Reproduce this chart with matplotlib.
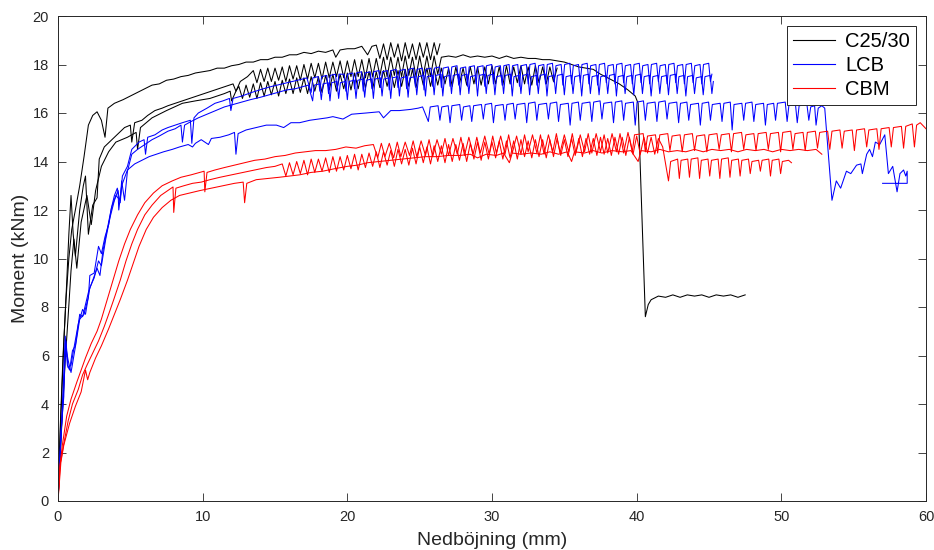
import matplotlib
matplotlib.use("Agg")
import matplotlib.pyplot as plt
from matplotlib.lines import Line2D

# ---------------- data (deflection mm, moment kNm) ----------------
c25_a = [(0,0),(0.15,3.0),(0.35,6.0),(0.55,8.3),(0.75,10.0),(0.95,11.2),(1.2,12.0),(1.5,13.0),(1.8,14.2),(2.1,15.5),
         (2.4,15.9),(2.7,16.05),(3.0,15.7),(3.25,15.0),(3.45,16.2),(3.9,16.4),(4.5,16.55),(5.0,16.7),(5.5,16.85),(6.0,17.0),
         (6.5,17.15),(7.0,17.2),(7.5,17.35),(8.0,17.4),(8.5,17.5),(9.0,17.55),(9.5,17.65),(10.0,17.7),(10.5,17.75),(11.0,17.85),
         (11.5,17.85),(12.0,17.95),(12.5,18.0),(13.0,18.1),(13.5,18.1),(14.0,18.2),(14.5,18.2),(15.0,18.3),(15.5,18.3),(16.0,18.4),
         (16.5,18.4),(17.0,18.5),(17.5,18.45),(18.0,18.55),(18.5,18.5),(19.0,18.6),(19.2,18.3),(19.5,18.6),(20.0,18.65),(20.5,18.65),
         (21.0,18.75),(21.4,18.4),(21.7,18.75),(22.0,18.8),(22.25,18.25),(22.5,18.85),(22.75,18.2),(23.0,18.9),(23.25,18.3),(23.5,18.85),
         (23.75,18.15),(24.0,18.9),(24.25,18.25),(24.5,18.85),(24.75,18.2),(25.0,18.9),(25.25,18.3),(25.5,18.9),(25.75,18.2),(26.0,18.9),
         (26.2,18.4),(26.4,18.85)]

c25_b = [(0,0),(0.2,3.5),(0.4,6.5),(0.6,9.0),(0.75,11.0),(0.9,12.6),(1.05,11.0),(1.2,10.1),(1.5,12.0),(1.75,13.0),(1.9,13.4),
         (2.1,11.0),(2.4,12.2),(2.7,12.5),(2.85,14.1),(3.2,14.6),(3.9,15.0),(4.6,15.4),(5.0,15.5),(5.1,14.8),(5.3,15.6),(5.8,15.7),
         (6.2,15.9),(6.7,16.1),(7.2,16.2),(7.6,16.3),(8.1,16.4),(8.6,16.5),(9.1,16.6),(9.6,16.7),(10.1,16.8),(10.6,16.9),(11.1,17.0),
         (11.6,17.1),(12.1,17.2),(12.3,16.9),(12.6,17.3),(13.1,17.5),
         (13.5,17.75),(13.75,17.25),(14.0,17.8),(14.25,17.3),(14.5,17.85),(14.75,17.3),(15.0,17.85),(15.25,17.35),(15.5,17.9),
         (15.75,17.3),(16.0,17.95),(16.25,17.4),(16.5,17.95),(16.75,17.35),(17.0,18.0),(17.25,17.4),(17.5,18.05),(17.75,17.45),
         (18.0,18.05),(18.25,17.4),(18.5,18.1),(18.75,17.45),(19.0,18.1),(19.25,17.5),(19.5,18.15),(19.75,17.45),(20.0,18.15),
         (20.25,17.5),(20.5,18.2),(20.75,17.5),(21.0,18.2),(21.25,17.45),(21.5,18.25),(21.75,17.5),(22.0,18.25),(22.25,17.55),
         (22.5,18.3),(22.75,17.5),(23.0,18.3),(23.25,17.55),(23.5,18.3),(23.75,17.5),(24.0,18.35),(24.25,17.55),(24.5,18.3),
         (24.75,17.5),(25.0,18.35),(25.25,17.55),(25.5,18.35),(25.75,17.5),(26.0,18.35),(26.25,17.6),(26.5,18.3),
         (27.0,18.35),(27.5,18.3),(28.0,18.4),(28.5,18.3),(29.0,18.35),(29.5,18.3),(30.0,18.35),(30.5,18.25),(31.0,18.35),
         (31.5,18.25),(32.0,18.3),(32.5,18.25),(33.0,18.25),(33.5,18.2),(34.0,18.2),(34.5,18.15),(35.0,18.1),(35.5,18.0),
         (36.0,17.9),(36.5,17.85),(37.0,17.8),(37.5,17.6),(38.0,17.45),(38.8,17.2),(39.4,16.95),(39.9,16.7),(40.1,16.4),
         (40.6,7.6),(40.8,8.1),(41.0,8.3),(41.5,8.45),(42.0,8.4),(42.5,8.5),(43.0,8.4),(43.5,8.5),(44.0,8.45),(44.5,8.5),
         (45.0,8.4),(45.5,8.5),(46.0,8.45),(46.5,8.5),(47.0,8.4),(47.5,8.5)]

c25_c = [(0,0),(0.25,3.0),(0.5,5.8),(0.7,7.6),(0.9,9.5),(1.1,10.8),(1.3,9.6),(1.6,11.5),(2.0,12.6),(2.3,11.4),(2.6,12.8),
         (3.0,13.8),(3.5,14.4),(4.0,14.8),(4.8,15.0),(5.4,15.2),(5.5,14.5),(5.7,15.4),(6.5,15.8),(7.5,16.1),(8.6,16.4),(9.5,16.5),
         (10.5,16.6),(11.5,16.8),(11.9,16.9),(12.0,16.5),(12.3,16.9),
         (12.5,17.1),(12.75,16.6),(13.0,17.15),(13.25,16.65),(13.5,17.2),(13.75,16.6),(14.0,17.25),(14.25,16.7),(14.5,17.3),
         (14.75,16.75),(15.0,17.3),(15.25,16.7),(15.5,17.35),(15.75,16.8),(16.0,17.4),(16.25,16.8),(16.5,17.45),(16.75,16.85),
         (17.0,17.45),(17.25,16.8),(17.5,17.5),(17.75,16.9),(18.0,17.5),(18.25,16.85),(18.5,17.55),(18.75,16.95),(19.0,17.6),
         (19.25,16.9),(19.5,17.6),(19.75,17.0),(20.0,17.65),(20.25,16.95),(20.5,17.65),(20.75,17.0),(21.0,17.7),(21.25,17.05),
         (21.5,17.7),(21.75,17.0),(22.0,17.7),(22.25,17.05),(22.5,17.75),(22.75,17.1),(23.0,17.75),(23.25,17.05),(23.5,17.75),
         (23.75,17.1),(24.0,17.8),(24.25,17.1),(24.5,17.8),(24.75,17.05),(25.0,17.8),(25.25,17.15),(25.5,17.85),(25.75,17.1),
         (26.0,17.8),(26.25,17.15),(26.5,17.85),(26.75,17.2),(27.0,17.85),(27.25,17.1),(27.5,17.9),(27.75,17.2),(28.0,17.85),
         (28.25,17.15),(28.5,17.9),(28.75,17.2),(29.0,17.9),(29.25,17.15),(29.5,17.9),(29.75,17.2),(30.0,17.95),(30.25,17.2),
         (30.5,17.9),(30.75,17.15),(31.0,17.95),(31.25,17.2),(31.5,17.9),(31.75,17.25),(32.0,17.95),(32.25,17.2),(32.5,17.9),
         (32.75,17.15),(33.0,17.95),(33.25,17.25),(33.5,17.9),(33.75,17.2),(34.0,17.9),(34.25,17.3),(34.5,17.85)]

lcb_a = [(0,0),(0.2,2.5),(0.35,4.5),(0.5,6.8),(0.65,5.6),(0.8,5.4),(1.0,6.2),(1.2,6.4),(1.5,7.7),(1.7,7.6),(2.1,8.6),(2.4,9.1),
         (2.7,9.6),(2.9,9.3),(3.1,10.3),(3.3,10.9),(3.5,11.5),(3.7,12.1),(3.9,12.6),(4.1,12.9),(4.3,12.3),(4.45,13.4),(4.8,13.8),
         (5.1,14.5),(5.6,14.8),(5.95,14.9),(6.05,14.3),(6.2,15.0),(6.7,15.1),(7.2,15.3),(7.6,15.4),(8.1,15.5),(8.6,15.6),(9.15,15.7),
         (9.25,14.75),(9.4,15.8),(9.7,16.0),(10.3,16.2),(10.85,16.4),(11.4,16.5),(11.85,16.6),(11.95,16.1),(12.1,16.6),(12.7,16.7),
         (13.4,16.85),(14.2,17.0),(14.8,17.1),(15.5,17.2),(16.2,17.3),(16.9,17.4),(17.2,17.45),
         (17.5,16.85),(17.62,17.45),(17.98,17.5),(18.1,16.9),(18.22,17.5),(18.58,17.55),(18.7,16.8),(18.82,17.55),(19.18,17.6),
         (19.3,16.95),(19.42,17.6),(19.78,17.6),(19.9,16.9),(20.02,17.6),(20.38,17.65),(20.5,17.0),(20.62,17.65),(20.98,17.7),
         (21.1,16.9),(21.22,17.65),(21.58,17.7),(21.7,17.0),(21.82,17.7),(22.18,17.75),(22.3,17.05),(22.42,17.7),(22.78,17.75),
         (22.9,16.95),(23.02,17.75),(23.38,17.8),(23.5,17.05),(23.62,17.75),(23.98,17.8),(24.1,17.0),(24.22,17.8),(24.58,17.85),
         (24.7,17.1),(24.82,17.8),(25.18,17.85),(25.3,16.95),(25.42,17.8),(25.78,17.85),(25.9,17.1),(26.02,17.85),(26.38,17.9),
         (26.5,17.05),(26.62,17.85),(26.98,17.9),(27.1,17.1),(27.22,17.9),(27.58,17.95),(27.7,17.15),(27.82,17.85),(28.18,17.9),
         (28.3,17.1),(28.42,17.9),(28.78,17.95),(28.9,17.2),(29.02,17.9),(29.38,17.95),(29.5,17.1),(29.62,17.95),(29.98,18.0),
         (30.1,17.2),(30.22,17.9),(30.58,17.95),(30.7,17.15),(30.82,17.95),(31.18,18.0),(31.3,17.2),(31.42,17.95),(31.78,18.0),
         (31.9,17.1),(32.02,17.95),(32.38,18.0),(32.5,17.2),(32.62,18.0),(32.98,18.05),(33.1,17.15),(33.22,17.95),(33.58,18.0),
         (33.7,17.2),(33.82,18.0),(34.18,18.05),(34.3,17.25),(34.42,17.95),(34.78,18.0),(34.9,17.15),(35.02,18.0),(35.38,18.05),
         (35.5,17.2),(35.62,17.95),(35.98,18.0),(36.1,17.25),(36.22,18.0),(36.58,18.05),(36.7,17.2),(36.82,17.95),(37.18,18.0),
         (37.3,17.15),(37.42,18.0),(37.78,18.05),(37.9,17.25),(38.02,17.95),(38.38,18.0),(38.5,17.2),(38.62,18.0),(38.98,18.05),
         (39.1,17.25),(39.22,17.95),(39.58,18.0),(39.7,17.2),(39.82,18.0),(40.18,18.05),(40.3,17.25),(40.42,17.95),(40.78,18.0),
         (40.9,17.2),(41.02,18.0),(41.38,18.05),(41.5,17.3),(41.62,17.95),(41.98,18.0),(42.1,17.2),(42.22,18.0),(42.58,18.05),
         (42.7,17.25),(42.82,17.95),(43.18,18.0),(43.3,17.2),(43.42,18.0),(43.78,18.05),(43.9,17.25),(44.02,17.95),(44.38,18.0),
         (44.5,17.2),(44.62,18.0),(44.98,18.05),(45.1,17.3),(45.2,17.6)]

lcb_b = [(0,0),(0.2,2.8),(0.4,4.3),(0.5,6.5),(0.7,5.8),(0.9,5.3),(1.2,6.35),(1.5,7.5),(1.8,7.7),(2.1,8.4),(2.2,9.3),(2.5,9.4),
         (2.8,10.5),(3.0,10.2),(3.25,10.9),(3.5,11.4),(3.7,12.1),(4.0,12.6),(4.3,12.4),(4.4,13.2),(4.6,12.4),(4.8,13.6),(5.1,14.3),
         (5.5,14.5),(6.0,14.7),(6.5,14.9),(7.0,15.05),(7.6,15.25),(8.1,15.35),(8.5,15.5),(8.6,14.8),(8.75,15.5),(9.2,15.65),(9.7,15.8),
         (10.3,15.95),(10.9,16.1),(11.5,16.25),(12.1,16.35),(12.7,16.45),(13.3,16.55),(14.0,16.65),(14.6,16.75),(15.2,16.85),
         (15.8,16.95),(16.4,17.0),(17.0,17.1),(17.3,17.15),
         (17.6,16.5),(17.72,17.15),(18.08,17.2),(18.2,16.55),(18.32,17.2),(18.68,17.25),(18.8,16.5),(18.92,17.25),(19.28,17.3),
         (19.4,16.6),(19.52,17.25),(19.88,17.3),(20.0,16.55),(20.12,17.3),(20.48,17.35),(20.6,16.6),(20.72,17.35),(21.08,17.4),
         (21.2,16.65),(21.32,17.35),(21.68,17.4),(21.8,16.6),(21.92,17.4),(22.28,17.45),(22.4,16.7),(22.52,17.4),(22.88,17.45),
         (23.0,16.6),(23.12,17.45),(23.48,17.5),(23.6,16.7),(23.72,17.45),(24.08,17.5),(24.2,16.65),(24.32,17.45),(24.68,17.5),
         (24.8,16.75),(24.92,17.5),(25.28,17.55),(25.4,16.7),(25.52,17.5),(25.88,17.55),(26.0,16.75),(26.12,17.55),(26.48,17.6),
         (26.6,16.7),(26.72,17.5),(27.08,17.55),(27.2,16.8),(27.32,17.55),(27.68,17.6),(27.8,16.75),(27.92,17.55),(28.28,17.6),
         (28.4,16.8),(28.52,17.5),(28.88,17.55),(29.0,16.7),(29.12,17.55),(29.48,17.6),(29.6,16.8),(29.72,17.55),(30.08,17.6),
         (30.2,16.75),(30.32,17.5),(30.68,17.55),(30.8,16.8),(30.92,17.55),(31.28,17.6),(31.4,16.7),(31.52,17.5),(31.88,17.55),
         (32.0,16.8),(32.12,17.55),(32.48,17.6),(32.6,16.75),(32.72,17.5),(33.08,17.55),(33.2,16.8),(33.32,17.55),(33.68,17.6),
         (33.8,16.7),(33.92,17.5),(34.28,17.55),(34.4,16.8),(34.52,17.55),(34.88,17.6),(35.0,16.75),(35.12,17.5),(35.48,17.55),
         (35.6,16.8),(35.72,17.5),(36.08,17.55),(36.2,16.7),(36.32,17.55),(36.68,17.6),(36.8,16.8),(36.92,17.5),(37.28,17.55),
         (37.4,16.75),(37.52,17.5),(37.88,17.55),(38.0,16.8),(38.12,17.55),(38.48,17.6),(38.6,16.7),(38.72,17.5),(39.08,17.55),
         (39.2,16.8),(39.32,17.5),(39.68,17.55),(39.8,16.75),(39.92,17.55),(40.28,17.6),(40.4,16.8),(40.52,17.5),(40.88,17.55),
         (41.0,16.7),(41.12,17.5),(41.48,17.55),(41.6,16.8),(41.72,17.5),(42.08,17.55),(42.2,16.75),(42.32,17.55),(42.68,17.6),
         (42.8,16.8),(42.92,17.5),(43.28,17.55),(43.4,16.7),(43.52,17.5),(43.88,17.55),(44.0,16.8),(44.12,17.45),(44.48,17.5),
         (44.6,16.75),(44.72,17.5),(45.08,17.55),(45.2,16.8),(45.3,17.3)]

lcb_c = [(0,0),(0.2,2.6),(0.4,4.8),(0.55,6.6),(0.7,5.5),(0.9,5.6),(1.1,6.3),(1.4,7.3),(1.7,7.9),(1.9,7.7),(2.2,8.8),(2.5,9.2),
         (2.8,9.9),(3.0,9.7),(3.3,10.8),(3.6,11.7),(3.9,12.4),(4.15,12.8),(4.2,12.0),(4.4,13.0),(4.8,13.65),(5.3,13.9),(5.8,14.05),
         (6.3,14.2),(6.8,14.3),(7.3,14.4),(7.9,14.5),(8.4,14.6),(9.0,14.7),(9.3,14.6),(9.5,14.75),(9.9,14.9),(10.4,14.7),(10.6,14.95),
         (11.2,15.0),(11.8,15.1),(12.2,15.2),(12.3,14.3),(12.45,15.15),(13.0,15.3),(13.7,15.4),(14.4,15.5),(15.1,15.5),(15.6,15.4),
         (16.1,15.6),(16.7,15.6),(17.4,15.7),(18.0,15.75),(18.6,15.8),(19.0,15.85),(19.7,15.75),(20.3,15.95),(21.3,16.0),(22.2,16.05),
         (22.5,15.8),(23.0,16.1),(23.6,16.1),(24.4,16.15),(24.9,16.2),(25.2,16.25),
         (25.6,15.65),(25.73,16.25),(26.27,16.3),(26.4,15.7),(26.53,16.25),(26.97,16.3),(27.1,15.6),(27.23,16.3),(27.77,16.35),
         (27.9,15.7),(28.03,16.25),(28.47,16.3),(28.6,15.65),(28.73,16.3),(29.27,16.35),(29.4,15.75),(29.53,16.35),(29.97,16.4),
         (30.1,15.6),(30.23,16.3),(30.77,16.35),(30.9,15.7),(31.03,16.35),(31.47,16.4),(31.6,15.75),(31.73,16.35),(32.27,16.4),
         (32.4,15.6),(32.53,16.4),(32.97,16.45),(33.1,15.7),(33.23,16.35),(33.77,16.4),(33.9,15.75),(34.03,16.4),(34.47,16.45),
         (34.6,15.65),(34.73,16.35),(35.27,16.4),(35.4,15.5),(35.53,16.4),(35.97,16.45),(36.1,15.7),(36.23,16.4),(36.77,16.45),
         (36.9,15.65),(37.03,16.45),(37.47,16.5),(37.6,15.75),(37.73,16.4),(38.27,16.45),(38.4,15.6),(38.53,16.45),(38.97,16.5),
         (39.1,15.7),(39.23,16.4),(39.77,16.45),(39.9,15.5),(40.03,16.45),(40.47,16.5),(40.6,15.7),(40.73,16.4),(41.27,16.45),
         (41.4,15.65),(41.53,16.45),(41.97,16.5),(42.1,15.75),(42.23,16.4),(42.77,16.45),(42.9,15.6),(43.03,16.4),(43.47,16.45),
         (43.6,15.7),(43.73,16.35),(44.27,16.4),(44.4,15.5),(44.53,16.4),(44.97,16.45),(45.1,15.7),(45.23,16.35),(45.77,16.4),
         (45.9,15.65),(46.03,16.4),(46.47,16.45),(46.6,15.3),(46.73,16.35),(47.27,16.4),(47.4,15.7),(47.53,16.4),(47.97,16.45),
         (48.1,15.65),(48.23,16.35),(48.77,16.4),(48.9,15.5),(49.03,16.35),(49.47,16.4),(49.6,15.7),(49.73,16.4),(50.27,16.45),
         (50.4,15.65),(50.53,16.35),(50.97,16.4),(51.1,15.6),(51.23,16.3),(51.77,16.35),(51.9,15.7),(52.03,16.25),(52.3,16.3),
         (52.4,15.5),(52.55,16.2),(52.8,16.3),(53.0,16.2),
         (53.5,12.4),(53.8,13.2),(54.1,12.9),(54.5,13.6),(54.8,13.5),(55.2,13.85),(55.5,13.9),(55.6,13.5),(55.9,14.3),(56.1,14.5),
         (56.3,14.2),(56.5,14.8),(56.8,14.7),(57.15,15.1),(57.4,13.5),(57.7,13.8),(58.0,12.75),(58.2,13.5),(58.45,13.65),(58.6,13.4),
         (58.7,13.6),(58.7,13.1),(57.0,13.1)]

cbm_a = [(0,0),(0.1,1.3),(0.3,2.3),(0.6,3.5),(0.9,4.2),(1.3,4.9),(1.6,5.4),(1.9,5.9),(2.3,6.5),(2.7,7.0),(3.0,7.5),(3.4,8.3),
         (3.8,9.1),(4.2,9.9),(4.6,10.6),(5.0,11.2),(5.5,11.8),(6.0,12.3),(6.6,12.7),(7.2,13.0),(7.9,13.2),(8.5,13.35),(9.2,13.45),
         (9.8,13.55),(10.1,13.6),(10.15,12.75),(10.3,13.55),(10.85,13.65),(11.5,13.75),(12.2,13.85),(12.9,13.95),(13.6,14.05),
         (14.3,14.1),(15.0,14.2),(15.7,14.25),(16.4,14.35),(17.1,14.4),(17.8,14.45),(18.5,14.45),(19.2,14.5),(19.9,14.6),(20.6,14.55),
         (21.2,14.65),
         (21.8,14.7),(22.1,14.15),(22.35,14.75),(22.6,14.2),(22.9,14.75),(23.2,14.15),(23.45,14.8),(23.7,14.2),(24.0,14.8),(24.3,14.25),
         (24.55,14.85),(24.8,14.2),(25.1,14.85),(25.4,14.25),(25.65,14.9),(25.9,14.2),(26.2,14.9),(26.5,14.3),(26.75,14.95),(27.0,14.25),
         (27.3,14.95),(27.6,14.3),(27.85,15.0),(28.1,14.25),(28.4,15.0),(28.7,14.3),(28.95,15.0),(29.2,14.35),(29.5,15.05),(29.8,14.3),
         (30.05,15.05),(30.3,14.35),(30.6,15.05),(30.9,14.3),(31.15,15.1),(31.4,14.35),(31.7,15.05),(32.0,14.3),(32.25,15.1),(32.5,14.4),
         (32.8,15.1),(33.1,14.35),(33.35,15.1),(33.6,14.3),(33.9,15.1),(34.2,14.4),(34.45,15.15),(34.7,14.35),(35.0,15.1),(35.3,14.4),
         (35.55,15.15),(35.8,14.35),(36.1,15.1),(36.4,14.4),(36.65,15.15),(36.9,14.35),(37.2,15.15),(37.5,14.4),(37.75,15.1),(38.0,14.35),
         (38.3,15.15),(38.6,14.4),(38.85,15.15),(39.1,14.35),(39.4,15.2),(39.7,14.4),
         (39.85,15.1),(40.45,15.15),(40.6,14.4),(40.75,15.05),(41.3,15.1),(41.45,14.35),(41.6,15.1),(42.15,15.15),
         (42.3,14.45),(42.45,15.05),(43.0,15.1),(43.15,14.4),(43.3,15.1),(43.85,15.15),(44.0,14.45),(44.15,15.05),(44.7,15.1),
         (44.85,14.4),(45.0,15.1),(45.55,15.15),(45.7,14.5),(45.85,15.1),(46.4,15.15),(46.55,14.4),(46.7,15.15),(47.25,15.2),
         (47.4,14.5),(47.55,15.1),(48.1,15.15),(48.25,14.45),(48.4,15.15),(48.95,15.2),(49.1,14.5),(49.25,15.15),(49.8,15.2),
         (49.95,14.4),(50.1,15.2),(50.65,15.25),(50.8,14.5),(50.95,15.15),(51.5,15.2),(51.65,14.45),(51.8,15.2),(52.35,15.25),
         (52.5,14.55),(52.65,15.2),(53.2,15.25),(53.35,14.5),(53.5,15.25),(54.05,15.3),(54.2,14.55),(54.35,15.25),(54.9,15.3),
         (55.05,14.45),(55.2,15.3),(55.75,15.35),(55.9,14.6),(56.05,15.3),(56.6,15.35),(56.75,14.5),(56.9,15.35),(57.45,15.4),
         (57.6,14.6),(57.75,15.4),(58.3,15.45),(58.45,14.55),(58.6,15.45),(59.05,15.55),(59.2,14.6),(59.35,15.5),(59.6,15.6),
         (60.0,15.35)]

cbm_b = [(0,0),(0.2,1.6),(0.4,2.3),(0.8,3.2),(1.2,3.9),(1.6,4.5),(1.9,5.4),(2.05,5.0),(2.2,5.3),(2.6,5.9),(3.0,6.4),(3.5,7.1),
         (3.9,7.7),(4.3,8.3),(4.8,9.1),(5.2,9.8),(5.6,10.5),(6.1,11.2),(6.6,11.7),(7.2,12.1),(7.8,12.4),(8.4,12.6),(9.1,12.7),
         (9.8,12.8),(10.6,12.9),(11.4,13.0),(12.2,13.1),(12.8,13.15),(12.9,12.3),(13.05,13.1),(13.7,13.25),(14.5,13.3),(15.3,13.35),
         (16.0,13.4),(16.7,13.45),(17.5,13.55),(18.3,13.6),(19.1,13.7),(20.0,13.8),(20.7,13.85),(21.4,13.95),(22.2,14.0),(23.0,14.05),
         (23.8,14.1),(24.6,14.15),(25.4,14.2),(26.2,14.2),(27.0,14.25),(27.8,14.25),(28.5,14.3),(29.0,14.15),(29.6,14.3),(30.3,14.25),
         (30.8,14.35),(31.2,13.95),(31.4,14.35),(32.0,14.3),(32.7,14.35),(33.4,14.3),(34.0,14.4),(34.6,14.3),(35.2,14.4),(35.5,14.0),
         (35.7,14.4),(36.4,14.35),(37.0,14.45),(37.6,14.35),(38.3,14.45),(39.0,14.4),(39.6,14.45),(40.1,14.0),(40.3,14.45),(41.0,14.4),
         (41.6,14.5),(42.2,14.4),(42.8,14.45),(43.4,14.4),(44.0,14.5),(44.6,14.4),(45.2,14.5),(45.8,14.45),(46.4,14.5),(47.0,14.4),
         (47.6,14.5),(48.2,14.45),(48.8,14.5),(49.4,14.4),(50.0,14.5),(50.6,14.45),(51.2,14.5),(51.8,14.45),(52.4,14.5),(52.8,14.3)]

cbm_c = [(0,0),(0.15,1.5),(0.35,2.2),(0.7,3.3),(1.0,4.0),(1.4,4.6),(1.7,5.2),(2.0,5.6),(2.4,6.1),(2.8,6.6),(3.2,7.2),(3.5,7.7),
         (3.85,8.3),(4.3,9.1),(4.7,9.9),(5.1,10.6),(5.5,11.2),(6.0,11.8),(6.5,12.2),(7.1,12.6),(7.7,12.85),(7.95,12.95),(8.0,11.9),
         (8.15,12.9),(8.7,13.0),(9.3,13.1),(9.9,13.15),(10.5,13.25),(11.2,13.35),(12.0,13.45),(12.8,13.55),(13.6,13.65),(14.4,13.75),
         (15.0,13.8),
         (15.5,13.9),(15.75,13.4),(16.0,13.95),(16.25,13.45),(16.5,14.0),(16.75,13.5),(17.0,14.05),(17.25,13.45),(17.5,14.1),(17.75,13.55),
         (18.0,14.1),(18.25,13.6),(18.5,14.15),(18.75,13.55),(19.0,14.2),(19.25,13.6),(19.5,14.2),(19.75,13.65),(20.0,14.25),(20.25,13.7),
         (20.5,14.3),(20.75,13.65),(21.0,14.3),(21.25,13.75),(21.5,14.35),(21.75,13.8),(22.0,14.4),(22.25,13.75),(22.5,14.4),(22.75,13.85),
         (23.0,14.45),(23.25,13.8),(23.5,14.5),(23.75,13.9),(24.0,14.5),(24.25,13.85),(24.5,14.55),(24.75,13.9),(25.0,14.6),(25.25,13.95),
         (25.5,14.6),(25.75,13.9),(26.0,14.65),(26.25,14.0),(26.5,14.65),(26.75,13.95),(27.0,14.7),(27.25,14.0),(27.5,14.7),(27.75,14.05),
         (28.0,14.75),(28.25,14.0),(28.5,14.75),(28.75,14.1),(29.0,14.8),(29.25,14.05),(29.5,14.8),(29.75,14.1),(30.0,14.8),(30.25,14.15),
         (30.5,14.85),(30.75,14.1),(31.0,14.85),(31.25,14.15),(31.5,14.85),(31.75,14.1),(32.0,14.9),(32.25,14.2),(32.5,14.85),(32.75,14.15),
         (33.0,14.9),(33.25,14.2),(33.5,14.9),(33.75,14.15),(34.0,14.9),(34.25,14.2),(34.5,14.95),(34.75,14.25),(35.0,14.9),(35.25,14.2),
         (35.5,14.95),(35.75,14.25),(36.0,14.95),(36.25,14.2),(36.5,14.95),(36.75,14.3),(37.0,14.95),(37.25,14.25),(37.5,15.0),(37.75,14.3),
         (38.0,14.95),(38.25,14.25),(38.5,15.0),(38.75,14.3),(39.0,15.0),(39.25,14.25),(39.5,15.0),(39.75,14.3),(40.0,15.05),(40.25,14.3),
         (40.5,15.0),(40.75,14.35),(41.0,15.0),(41.25,14.3),(41.5,14.95),
         (41.8,14.6),(42.0,13.9),(42.2,13.2),(42.35,14.0),(42.83,14.1),
         (42.95,13.3),(43.07,14.05),(43.53,14.1),(43.65,13.35),(43.77,14.1),(44.23,14.15),(44.35,13.3),(44.47,14.05),(44.93,14.1),
         (45.05,13.4),(45.17,14.05),(45.63,14.1),(45.75,13.3),(45.87,14.1),(46.33,14.15),(46.45,13.35),(46.57,14.05),(47.03,14.1),
         (47.15,13.4),(47.27,14.05),(47.73,14.1),(47.85,13.5),(47.97,14.0),(48.43,14.05),(48.55,13.6),(48.67,14.05),(49.13,14.1),
         (49.25,13.4),(49.37,14.05),(49.83,14.1),(49.95,13.5),(50.07,14.0),(50.5,14.05),(50.7,13.95)]

groups = [("C25/30", "#000000", [c25_a, c25_b, c25_c]),
          ("LCB", "#0000FF", [lcb_a, lcb_b, lcb_c]),
          ("CBM", "#FF0000", [cbm_a, cbm_b, cbm_c])]

x_ticks = [0, 10, 20, 30, 40, 50, 60]
y_ticks = [0, 2, 4, 6, 8, 10, 12, 14, 16, 18, 20]

# ---------------- plot ----------------
plt.rcParams['font.family'] = ['Liberation Sans', 'DejaVu Sans']
axcol = '#262626'

fig = plt.figure(figsize=(9.34, 5.5), dpi=100)
ax = fig.add_axes([58/934, 1 - 501/550, (926 - 58)/934, (501 - 16)/550])

handles = []
for label, color, curves in groups:
    for curve in curves:
        xs, ys = zip(*curve)
        ax.plot(xs, ys, color=color, lw=0.75)
    handles.append(Line2D([], [], color=color, lw=0.8, label=label))

ax.set_xlim(0, 60)
ax.set_ylim(0, 20)
ax.set_xticks(x_ticks)
ax.set_yticks(y_ticks)
ax.tick_params(direction='in', length=6, width=0.6, top=True, right=True,
               labelsize=10.5, colors=axcol, pad=6.5)
for s in ax.spines.values():
    s.set_color(axcol)
    s.set_linewidth(0.7)

ax.set_xlabel("Nedböjning (mm)", fontsize=14, color=axcol, labelpad=6)
ax.set_ylabel("Moment (kNm)", fontsize=14, color=axcol, labelpad=2.5)

leg = ax.legend(handles=handles, loc='upper right', fontsize=14.5, frameon=True,
                fancybox=False, edgecolor=axcol, framealpha=1, handlelength=2.1,
                borderaxespad=0.5, labelspacing=0.25, handletextpad=0.5, borderpad=0.3)
leg.get_frame().set_linewidth(0.7)

fig.savefig("out.png", dpi=100)
